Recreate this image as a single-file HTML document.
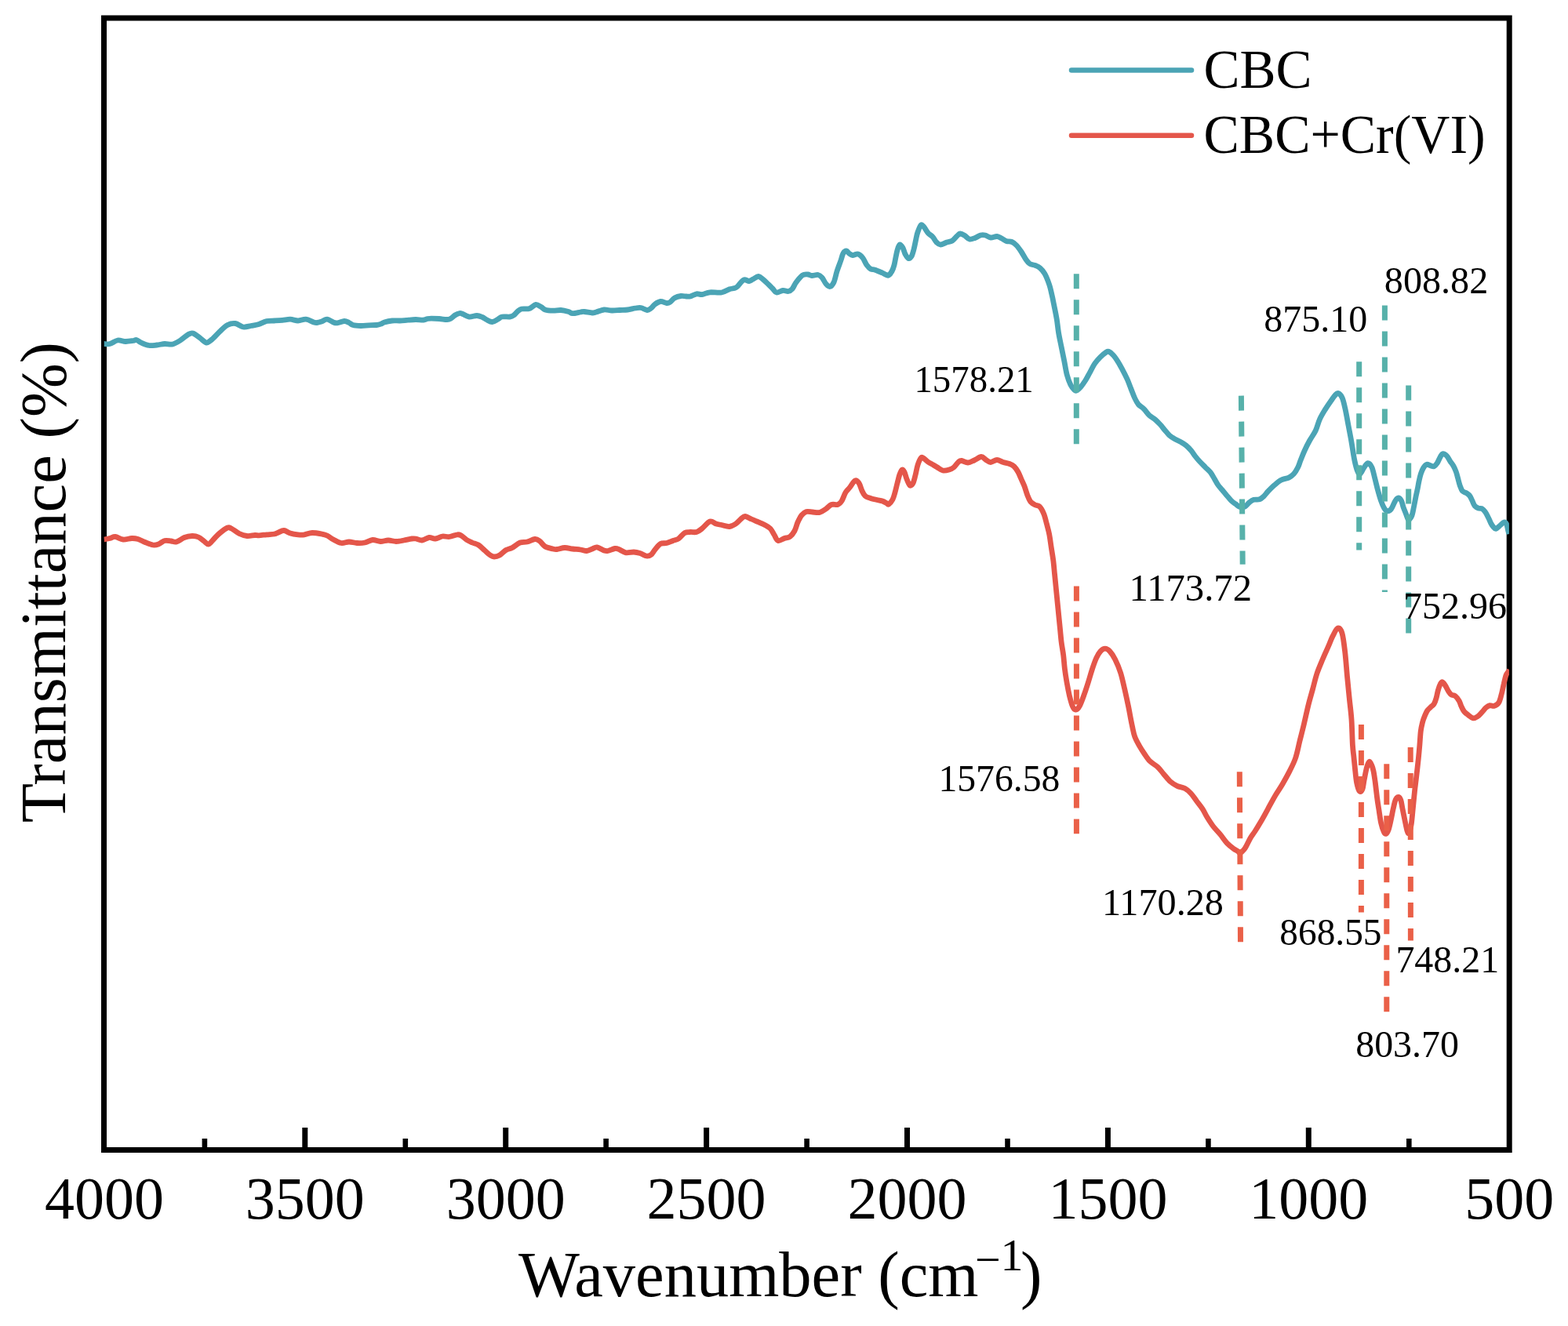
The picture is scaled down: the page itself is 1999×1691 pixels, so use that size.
<!DOCTYPE html>
<html><head><meta charset="utf-8"><title>FTIR</title>
<style>
html,body{margin:0;padding:0;background:#fff;}
body{width:1999px;height:1691px;overflow:hidden;}
svg{display:block;}
text{font-family:"Liberation Serif","Times New Roman",serif;fill:#000;}
.lab{font-size:48px;}
.tick{font-size:76px;}
.title{font-size:82.5px;}
.sup{font-size:58px;}
.leg{font-size:69px;}
</style></head><body>
<svg width="1999" height="1691" viewBox="0 0 1999 1691">
<rect width="1999" height="1691" fill="#fff"/>
<line x1="388.8" y1="1463" x2="388.8" y2="1438" stroke="#000" stroke-width="7"/>
<line x1="644.7" y1="1463" x2="644.7" y2="1438" stroke="#000" stroke-width="7"/>
<line x1="900.6" y1="1463" x2="900.6" y2="1438" stroke="#000" stroke-width="7"/>
<line x1="1156.5" y1="1463" x2="1156.5" y2="1438" stroke="#000" stroke-width="7"/>
<line x1="1412.4" y1="1463" x2="1412.4" y2="1438" stroke="#000" stroke-width="7"/>
<line x1="1668.3" y1="1463" x2="1668.3" y2="1438" stroke="#000" stroke-width="7"/>
<line x1="260.9" y1="1463" x2="260.9" y2="1452" stroke="#000" stroke-width="6.6"/>
<line x1="516.8" y1="1463" x2="516.8" y2="1452" stroke="#000" stroke-width="6.6"/>
<line x1="772.6" y1="1463" x2="772.6" y2="1452" stroke="#000" stroke-width="6.6"/>
<line x1="1028.6" y1="1463" x2="1028.6" y2="1452" stroke="#000" stroke-width="6.6"/>
<line x1="1284.5" y1="1463" x2="1284.5" y2="1452" stroke="#000" stroke-width="6.6"/>
<line x1="1540.4" y1="1463" x2="1540.4" y2="1452" stroke="#000" stroke-width="6.6"/>
<line x1="1796.3" y1="1463" x2="1796.3" y2="1452" stroke="#000" stroke-width="6.6"/>
<rect x="132.5" y="23" width="1791.7" height="1443.5" fill="none" stroke="#000" stroke-width="7"/>
<defs><clipPath id="pc"><rect x="132.5" y="0" width="1791.4" height="1691"/></clipPath></defs>
<g clip-path="url(#pc)">
<path d="M132.5 438.5C133.8 438.5 137.1 439.2 140.0 438.5C142.9 437.8 146.7 434.5 150.0 434.0C153.3 433.5 156.7 435.4 160.0 435.5C163.3 435.6 167.7 434.8 170.0 434.5C172.3 434.2 172.3 433.1 174.0 433.5C175.7 433.9 177.3 435.8 180.0 437.0C182.7 438.2 186.7 440.0 190.0 440.5C193.3 441.0 196.7 440.3 200.0 440.0C203.3 439.7 206.7 438.7 210.0 438.5C213.3 438.3 216.7 439.8 220.0 439.0C223.3 438.2 226.7 436.1 230.0 434.0C233.3 431.9 237.3 428.0 240.0 426.5C242.7 425.0 243.5 424.2 246.0 425.0C248.5 425.8 252.2 429.0 255.0 431.0C257.8 433.0 260.5 436.7 263.0 437.0C265.5 437.3 267.2 435.3 270.0 433.0C272.8 430.7 276.7 426.1 280.0 423.0C283.3 419.9 286.7 416.2 290.0 414.5C293.3 412.8 296.7 412.1 300.0 412.5C303.3 412.9 306.7 416.5 310.0 417.0C313.3 417.5 316.7 416.1 320.0 415.5C323.3 414.9 326.7 414.5 330.0 413.5C333.3 412.5 336.7 410.2 340.0 409.5C343.3 408.8 346.7 409.2 350.0 409.0C353.3 408.8 356.7 408.6 360.0 408.3C363.3 408.0 366.7 407.1 370.0 407.2C373.3 407.3 376.7 409.0 380.0 409.0C383.3 409.0 386.7 406.9 390.0 407.2C393.3 407.5 397.7 410.3 400.0 411.0C402.3 411.7 402.3 411.7 404.0 411.5C405.7 411.3 407.8 410.7 410.0 410.0C412.2 409.3 414.5 407.0 417.0 407.2C419.5 407.4 422.8 410.2 425.0 411.0C427.2 411.8 427.7 412.1 430.0 411.8C432.3 411.6 436.5 409.6 439.0 409.5C441.5 409.4 443.2 410.7 445.0 411.5C446.8 412.3 447.5 413.8 450.0 414.5C452.5 415.2 456.7 415.4 460.0 415.5C463.3 415.6 466.7 415.0 470.0 414.8C473.3 414.6 477.3 414.8 480.0 414.5C482.7 414.2 484.3 413.6 486.0 413.0C487.7 412.4 487.7 411.7 490.0 411.0C492.3 410.3 496.7 409.3 500.0 409.0C503.3 408.7 506.7 409.1 510.0 409.0C513.3 408.9 516.7 408.4 520.0 408.2C523.3 407.9 526.7 407.5 530.0 407.5C533.3 407.5 537.5 408.2 540.0 408.0C542.5 407.8 543.3 406.8 545.0 406.5C546.7 406.2 547.5 406.2 550.0 406.2C552.5 406.2 556.7 406.3 560.0 406.5C563.3 406.7 567.5 407.6 570.0 407.5C572.5 407.4 573.3 406.9 575.0 406.0C576.7 405.1 578.2 403.1 580.0 402.0C581.8 400.9 584.3 399.8 586.0 399.5C587.7 399.2 588.0 399.8 590.0 400.5C592.0 401.2 595.0 403.7 598.0 404.0C601.0 404.3 605.2 402.4 608.0 402.5C610.8 402.6 613.0 403.7 615.0 404.5C617.0 405.3 617.9 406.5 620.0 407.5C622.1 408.5 625.0 410.6 627.5 410.5C630.0 410.4 632.9 408.1 635.0 407.0C637.1 405.9 637.5 404.5 640.0 404.0C642.5 403.5 647.5 404.3 650.0 404.0C652.5 403.7 653.3 403.2 655.0 402.0C656.7 400.8 658.3 398.3 660.0 397.0C661.7 395.7 662.5 394.6 665.0 394.0C667.5 393.4 672.0 394.4 675.0 393.5C678.0 392.6 680.5 388.8 683.0 388.5C685.5 388.2 688.0 390.4 690.0 391.5C692.0 392.6 692.5 394.2 695.0 395.0C697.5 395.8 701.7 396.1 705.0 396.2C708.3 396.3 711.7 395.3 715.0 395.5C718.3 395.7 722.5 396.8 725.0 397.5C727.5 398.2 727.5 399.6 730.0 399.7C732.5 399.8 737.5 398.4 740.0 398.0C742.5 397.6 742.5 397.3 745.0 397.5C747.5 397.7 752.5 398.9 755.0 399.0C757.5 399.1 757.5 398.7 760.0 398.0C762.5 397.3 766.7 395.3 770.0 395.0C773.3 394.7 776.7 395.9 780.0 396.0C783.3 396.1 786.7 395.7 790.0 395.5C793.3 395.3 796.7 395.4 800.0 395.0C803.3 394.6 807.2 393.4 810.0 393.0C812.8 392.6 814.5 392.1 817.0 392.5C819.5 392.9 822.8 395.4 825.0 395.5C827.2 395.6 828.3 394.2 830.0 393.0C831.7 391.8 833.0 389.4 835.0 388.0C837.0 386.6 839.5 384.8 842.0 384.5C844.5 384.2 848.0 386.3 850.0 386.5C852.0 386.7 852.3 386.6 854.0 385.5C855.7 384.4 857.7 381.3 860.0 380.0C862.3 378.7 865.5 377.8 868.0 377.5C870.5 377.2 873.0 377.9 875.0 378.0C877.0 378.1 877.8 378.5 880.0 378.0C882.2 377.5 885.5 375.2 888.0 374.8C890.5 374.4 892.2 375.8 895.0 375.5C897.8 375.2 900.8 373.2 905.0 372.8C909.2 372.4 915.8 373.7 920.0 373.0C924.2 372.3 927.3 369.7 930.0 368.8C932.7 367.9 934.3 368.1 936.0 367.5C937.7 366.9 938.0 367.2 940.0 365.5C942.0 363.8 945.5 358.2 948.0 357.0C950.5 355.8 953.0 358.7 955.0 358.5C957.0 358.3 958.0 357.0 960.0 356.0C962.0 355.0 964.8 352.4 967.0 352.5C969.2 352.6 970.8 354.8 973.0 356.5C975.2 358.2 978.0 361.1 980.0 363.0C982.0 364.9 983.3 366.3 985.0 368.0C986.7 369.7 987.8 372.6 990.0 373.0C992.2 373.4 995.5 370.8 998.0 370.5C1000.5 370.2 1003.0 371.8 1005.0 371.5C1007.0 371.2 1008.3 370.4 1010.0 368.5C1011.7 366.6 1012.8 362.9 1015.0 360.0C1017.2 357.1 1020.5 352.7 1023.0 351.0C1025.5 349.3 1028.0 349.9 1030.0 350.0C1032.0 350.1 1032.8 351.4 1035.0 351.5C1037.2 351.6 1040.8 350.1 1043.0 350.5C1045.2 350.9 1046.3 352.1 1048.0 354.0C1049.7 355.9 1051.3 360.1 1053.0 362.0C1054.7 363.9 1056.3 365.8 1058.0 365.5C1059.7 365.2 1061.5 363.2 1063.0 360.0C1064.5 356.8 1065.5 350.7 1067.0 346.0C1068.5 341.3 1070.7 335.8 1072.0 332.0C1073.3 328.2 1073.8 325.0 1075.0 323.0C1076.2 321.0 1077.7 319.9 1079.0 320.0C1080.3 320.1 1081.7 322.6 1083.0 323.5C1084.3 324.4 1085.2 325.4 1087.0 325.5C1088.8 325.6 1091.8 323.4 1094.0 324.0C1096.2 324.6 1098.2 326.7 1100.0 329.0C1101.8 331.3 1103.3 335.7 1105.0 338.0C1106.7 340.3 1108.3 342.0 1110.0 343.0C1111.7 344.0 1113.3 343.5 1115.0 344.0C1116.7 344.5 1118.3 345.3 1120.0 346.0C1121.7 346.7 1123.3 347.2 1125.0 348.0C1126.7 348.8 1128.7 350.0 1130.0 350.5C1131.3 351.0 1131.8 351.8 1133.0 351.0C1134.2 350.2 1135.8 348.2 1137.0 346.0C1138.2 343.8 1139.2 341.0 1140.0 338.0C1140.8 335.0 1141.3 331.2 1142.0 328.0C1142.7 324.8 1143.2 321.7 1144.0 319.0C1144.8 316.3 1145.8 312.5 1147.0 312.0C1148.2 311.5 1149.8 314.0 1151.0 316.0C1152.2 318.0 1152.8 321.8 1154.0 324.0C1155.2 326.2 1156.7 329.0 1158.0 329.5C1159.3 330.0 1160.8 328.9 1162.0 327.0C1163.2 325.1 1164.0 321.8 1165.0 318.0C1166.0 314.2 1167.2 307.7 1168.0 304.0C1168.8 300.3 1169.0 298.8 1170.0 296.0C1171.0 293.2 1172.7 288.1 1174.0 287.0C1175.3 285.9 1176.5 287.8 1178.0 289.5C1179.5 291.2 1181.2 294.9 1183.0 297.0C1184.8 299.1 1187.2 300.0 1189.0 302.0C1190.8 304.0 1192.3 307.3 1194.0 309.0C1195.7 310.7 1196.8 312.0 1199.0 312.0C1201.2 312.0 1204.5 309.8 1207.0 309.0C1209.5 308.2 1211.8 308.3 1214.0 307.0C1216.2 305.7 1218.3 302.5 1220.0 301.0C1221.7 299.5 1222.3 298.1 1224.0 298.0C1225.7 297.9 1228.0 299.3 1230.0 300.5C1232.0 301.7 1233.8 304.5 1236.0 305.0C1238.2 305.5 1240.7 304.3 1243.0 303.5C1245.3 302.7 1247.8 300.6 1250.0 300.0C1252.2 299.4 1253.8 299.5 1256.0 300.0C1258.2 300.5 1260.5 302.8 1263.0 303.0C1265.5 303.2 1268.7 301.3 1271.0 301.5C1273.3 301.7 1275.0 303.0 1277.0 304.0C1279.0 305.0 1280.8 306.8 1283.0 307.5C1285.2 308.2 1287.8 307.6 1290.0 308.5C1292.2 309.4 1294.0 310.9 1296.0 313.0C1298.0 315.1 1300.0 318.0 1302.0 321.0C1304.0 324.0 1306.2 328.4 1308.0 331.0C1309.8 333.6 1311.0 335.2 1313.0 336.5C1315.0 337.8 1317.8 337.6 1320.0 338.5C1322.2 339.4 1324.0 340.1 1326.0 341.8C1328.0 343.5 1329.8 345.4 1331.8 348.9C1333.8 352.4 1336.1 358.3 1337.7 363.0C1339.3 367.7 1340.3 373.0 1341.3 377.3C1342.3 381.6 1342.7 384.1 1343.7 389.0C1344.7 393.9 1346.2 401.0 1347.2 406.9C1348.2 412.8 1348.6 418.7 1349.6 424.6C1350.6 430.5 1351.9 436.4 1353.1 442.3C1354.3 448.2 1355.5 454.1 1356.7 460.0C1357.9 465.9 1358.8 472.7 1360.2 477.8C1361.6 482.9 1363.3 487.6 1364.9 490.8C1366.5 494.1 1368.4 496.1 1369.7 497.3C1371.0 498.5 1371.2 498.7 1372.6 498.0C1374.0 497.3 1376.1 495.4 1378.0 493.2C1379.9 491.0 1381.9 488.1 1383.9 485.0C1385.9 481.9 1387.8 477.9 1389.8 474.3C1391.8 470.7 1393.5 466.8 1395.7 463.6C1397.9 460.5 1400.4 457.8 1402.8 455.4C1405.2 453.0 1408.1 450.6 1409.9 449.4C1411.7 448.2 1411.8 447.7 1413.4 448.3C1415.0 448.9 1417.3 450.8 1419.3 453.0C1421.3 455.2 1423.3 458.2 1425.3 461.3C1427.3 464.4 1429.2 468.2 1431.2 471.9C1433.2 475.6 1435.3 479.8 1437.1 483.7C1438.9 487.6 1440.2 491.7 1441.8 495.6C1443.4 499.6 1444.9 504.0 1446.5 507.4C1448.1 510.8 1449.3 513.3 1451.3 515.7C1453.3 518.1 1456.1 519.2 1458.4 521.6C1460.7 524.0 1462.9 527.5 1465.3 529.8C1467.7 532.0 1470.5 533.1 1472.8 535.1C1475.1 537.1 1477.2 539.4 1479.2 541.5C1481.2 543.6 1482.5 545.6 1484.5 547.9C1486.5 550.2 1488.8 553.3 1490.9 555.3C1493.0 557.2 1494.8 558.2 1497.3 559.6C1499.8 561.0 1503.3 562.5 1505.8 563.9C1508.3 565.3 1510.1 566.3 1512.2 568.1C1514.3 569.9 1516.5 572.2 1518.5 574.5C1520.5 576.8 1522.1 579.7 1523.9 582.0C1525.7 584.3 1527.1 586.0 1529.2 588.3C1531.3 590.6 1534.3 593.5 1536.6 595.8C1538.9 598.1 1541.0 599.7 1543.0 602.2C1545.0 604.7 1546.7 608.1 1548.3 610.7C1549.9 613.4 1551.0 615.8 1552.6 618.1C1554.2 620.4 1556.1 622.4 1557.9 624.5C1559.7 626.6 1561.2 628.6 1563.2 630.9C1565.2 633.2 1567.6 636.4 1569.6 638.4C1571.6 640.4 1573.2 641.3 1575.0 642.6C1576.8 643.9 1578.9 645.6 1580.3 646.4C1581.7 647.2 1582.3 647.5 1583.5 647.4C1584.7 647.3 1586.1 646.9 1587.7 645.8C1589.3 644.6 1591.2 641.9 1593.0 640.5C1594.8 639.1 1596.3 637.9 1598.4 637.3C1600.5 636.7 1603.7 637.5 1605.8 636.8C1607.9 636.1 1609.3 634.7 1611.1 633.0C1612.9 631.3 1614.5 628.8 1616.5 626.7C1618.5 624.6 1620.6 622.4 1622.9 620.3C1625.2 618.2 1628.2 615.4 1630.3 613.9C1632.4 612.4 1633.5 612.0 1635.6 611.2C1637.7 610.4 1640.8 610.2 1643.1 609.1C1645.4 608.0 1647.5 606.5 1649.5 604.3C1651.5 602.1 1653.4 598.6 1654.8 595.8C1656.2 593.0 1656.6 590.8 1658.0 587.3C1659.4 583.8 1661.1 579.2 1663.0 575.0C1664.9 570.8 1667.1 566.3 1669.5 562.0C1671.9 557.7 1675.1 553.6 1677.3 549.0C1679.5 544.4 1680.5 539.0 1682.5 534.6C1684.5 530.2 1686.6 526.8 1689.0 522.9C1691.4 519.0 1694.6 514.3 1696.8 511.2C1699.0 508.1 1700.5 505.7 1702.0 504.1C1703.5 502.5 1704.5 501.0 1706.0 501.5C1707.5 502.0 1709.7 503.9 1711.2 507.3C1712.7 510.7 1713.7 515.7 1715.0 521.6C1716.3 527.5 1717.7 535.5 1719.0 542.5C1720.3 549.5 1721.6 555.9 1722.9 563.3C1724.2 570.7 1725.5 580.4 1726.8 586.7C1728.1 593.0 1729.5 598.1 1730.7 601.0C1731.9 603.9 1732.6 604.9 1733.9 604.3C1735.2 603.6 1736.9 599.4 1738.5 597.1C1740.1 594.8 1742.0 590.8 1743.7 590.6C1745.4 590.4 1747.4 592.5 1748.9 595.8C1750.4 599.0 1751.5 605.1 1752.8 610.1C1754.1 615.1 1755.4 620.9 1756.7 625.7C1758.0 630.5 1759.3 635.0 1760.6 638.7C1761.9 642.4 1763.2 645.6 1764.5 647.8C1765.8 650.0 1766.9 651.5 1768.4 651.7C1769.9 651.9 1771.9 651.3 1773.6 649.1C1775.3 646.9 1777.3 641.1 1778.8 638.7C1780.3 636.3 1781.3 634.9 1782.6 634.9C1783.9 634.9 1785.5 636.6 1786.6 638.6C1787.7 640.6 1788.1 644.1 1789.1 646.9C1790.1 649.7 1791.4 652.7 1792.4 655.2C1793.4 657.7 1794.2 660.6 1794.9 661.8C1795.6 663.0 1795.8 663.3 1796.6 662.6C1797.4 661.9 1798.9 660.3 1799.9 657.7C1800.9 655.1 1801.6 650.8 1802.4 646.9C1803.2 643.0 1804.0 638.5 1804.8 634.5C1805.6 630.5 1806.6 626.4 1807.3 622.9C1808.0 619.4 1808.3 617.0 1809.0 613.8C1809.7 610.6 1810.5 606.8 1811.5 603.9C1812.5 601.0 1813.6 598.3 1814.8 596.4C1816.0 594.5 1817.4 592.7 1818.9 592.3C1820.4 591.9 1822.4 593.5 1823.9 593.9C1825.4 594.3 1826.6 595.3 1828.0 594.8C1829.4 594.2 1830.8 592.7 1832.2 590.6C1833.6 588.5 1835.1 584.4 1836.3 582.4C1837.5 580.4 1838.2 578.8 1839.6 578.6C1841.0 578.5 1843.1 579.9 1844.6 581.5C1846.1 583.1 1847.3 586.0 1848.7 588.1C1850.1 590.2 1851.5 591.7 1852.8 593.9C1854.0 596.1 1855.2 598.8 1856.2 601.4C1857.2 604.0 1857.8 606.8 1858.6 609.7C1859.4 612.6 1860.1 616.0 1861.1 618.8C1862.1 621.5 1863.0 624.6 1864.4 626.2C1865.8 627.9 1867.9 627.7 1869.4 628.7C1870.9 629.7 1872.2 630.4 1873.5 632.0C1874.8 633.6 1875.8 636.4 1876.9 638.6C1878.0 640.8 1878.8 643.7 1880.2 645.3C1881.6 646.9 1883.6 647.7 1885.1 648.2C1886.6 648.8 1887.9 647.9 1889.3 648.6C1890.7 649.4 1892.0 650.8 1893.4 652.7C1894.8 654.6 1896.2 657.7 1897.5 660.2C1898.8 662.7 1899.9 665.7 1900.9 667.6C1901.9 669.5 1902.5 670.4 1903.5 671.5C1904.5 672.6 1905.5 674.5 1907.0 674.3C1908.5 674.0 1910.8 671.4 1912.5 670.0C1914.2 668.6 1916.0 666.3 1917.3 666.0C1918.6 665.7 1919.6 666.3 1920.5 668.0C1921.4 669.7 1922.0 673.8 1922.5 676.0C1923.0 678.2 1923.6 680.2 1923.8 681.0" fill="none" stroke="#4BA4B5" stroke-width="6.8" stroke-linejoin="round" stroke-linecap="butt"/>
<path d="M132.5 688.0C133.8 687.8 137.6 687.1 140.0 686.5C142.4 685.9 144.2 684.2 147.0 684.5C149.8 684.8 153.5 687.7 157.0 688.0C160.5 688.3 164.8 686.6 168.0 686.5C171.2 686.4 173.2 686.7 176.0 687.5C178.8 688.3 181.8 690.2 185.0 691.5C188.2 692.8 192.2 694.6 195.0 695.0C197.8 695.4 199.5 694.9 202.0 694.0C204.5 693.1 207.3 690.2 210.0 689.5C212.7 688.8 215.5 689.8 218.0 690.0C220.5 690.2 222.2 691.8 225.0 691.0C227.8 690.2 231.7 686.8 235.0 685.5C238.3 684.2 242.0 683.6 245.0 683.5C248.0 683.4 250.5 683.9 253.0 685.0C255.5 686.1 257.8 688.5 260.0 690.0C262.2 691.5 263.8 694.5 266.0 694.0C268.2 693.5 270.7 689.3 273.0 687.0C275.3 684.7 277.2 682.3 280.0 680.0C282.8 677.7 287.5 674.0 290.0 673.0C292.5 672.0 292.5 672.8 295.0 674.0C297.5 675.2 301.7 678.9 305.0 680.5C308.3 682.1 311.7 683.2 315.0 683.5C318.3 683.8 322.5 682.6 325.0 682.5C327.5 682.4 327.5 682.9 330.0 682.8C332.5 682.7 336.7 682.1 340.0 681.8C343.3 681.5 347.5 681.5 350.0 681.0C352.5 680.5 353.0 679.8 355.0 679.0C357.0 678.2 359.5 676.3 362.0 676.5C364.5 676.7 367.0 679.1 370.0 680.0C373.0 680.9 377.0 681.5 380.0 681.8C383.0 682.1 385.0 682.2 388.0 681.8C391.0 681.4 394.3 679.6 398.0 679.5C401.7 679.4 406.8 680.4 410.0 681.0C413.2 681.6 414.5 681.8 417.0 683.0C419.5 684.2 422.0 686.4 425.0 688.0C428.0 689.6 431.7 692.0 435.0 692.5C438.3 693.0 441.7 691.0 445.0 691.0C448.3 691.0 451.7 692.3 455.0 692.5C458.3 692.7 461.7 692.7 465.0 692.0C468.3 691.3 471.7 688.8 475.0 688.5C478.3 688.2 481.7 690.4 485.0 690.5C488.3 690.6 491.7 689.0 495.0 689.0C498.3 689.0 501.7 690.5 505.0 690.5C508.3 690.5 511.7 689.6 515.0 689.0C518.3 688.4 522.5 687.3 525.0 687.0C527.5 686.7 527.8 686.7 530.0 687.0C532.2 687.3 535.2 689.2 538.0 689.0C540.8 688.8 544.2 685.8 547.0 685.5C549.8 685.2 552.2 687.2 555.0 687.0C557.8 686.8 561.0 684.4 564.0 684.0C567.0 683.6 569.8 684.9 573.0 684.5C576.2 684.1 580.5 682.0 583.0 681.8C585.5 681.5 586.0 681.9 588.0 683.0C590.0 684.1 592.7 687.0 595.0 688.5C597.3 690.0 599.5 690.9 602.0 692.0C604.5 693.1 607.3 693.3 610.0 695.0C612.7 696.7 615.5 699.8 618.0 702.0C620.5 704.2 623.0 706.7 625.0 708.0C627.0 709.3 628.0 710.0 630.0 710.0C632.0 710.0 634.5 709.4 637.0 708.0C639.5 706.6 642.3 703.1 645.0 701.5C647.7 699.9 650.0 700.1 653.0 698.5C656.0 696.9 659.8 693.2 663.0 692.0C666.2 690.8 668.8 691.8 672.0 691.0C675.2 690.2 679.3 687.7 682.0 687.5C684.7 687.3 685.8 688.4 688.0 690.0C690.2 691.6 692.2 695.3 695.0 697.0C697.8 698.7 702.5 699.4 705.0 700.0C707.5 700.6 707.5 700.8 710.0 700.5C712.5 700.2 716.7 698.6 720.0 698.5C723.3 698.4 726.7 699.6 730.0 700.0C733.3 700.4 737.0 700.6 740.0 701.0C743.0 701.4 745.5 702.7 748.0 702.5C750.5 702.3 752.8 700.8 755.0 700.0C757.2 699.2 758.5 697.5 761.0 697.8C763.5 698.1 767.7 701.2 770.0 702.0C772.3 702.8 772.7 702.9 775.0 702.5C777.3 702.1 781.5 699.8 784.0 699.5C786.5 699.2 787.7 700.1 790.0 701.0C792.3 701.9 795.0 704.3 798.0 704.8C801.0 705.3 805.0 703.9 808.0 704.0C811.0 704.1 813.3 704.7 816.0 705.5C818.7 706.3 821.7 708.7 824.0 709.0C826.3 709.3 828.2 708.8 830.0 707.5C831.8 706.2 833.0 703.3 835.0 701.0C837.0 698.7 839.5 694.9 842.0 693.5C844.5 692.1 847.3 693.2 850.0 692.5C852.7 691.8 855.5 690.4 858.0 689.5C860.5 688.6 862.5 688.7 865.0 687.0C867.5 685.3 870.5 680.9 873.0 679.5C875.5 678.1 877.5 678.7 880.0 678.5C882.5 678.3 885.5 679.2 888.0 678.5C890.5 677.8 892.2 676.2 895.0 674.0C897.8 671.8 902.0 666.0 905.0 665.0C908.0 664.0 910.5 667.2 913.0 668.0C915.5 668.8 917.2 668.9 920.0 669.5C922.8 670.1 927.0 671.8 930.0 671.5C933.0 671.2 935.5 669.7 938.0 668.0C940.5 666.3 943.0 663.1 945.0 661.5C947.0 659.9 947.8 658.4 950.0 658.5C952.2 658.6 955.5 660.9 958.0 662.0C960.5 663.1 962.2 663.8 965.0 665.0C967.8 666.2 972.2 668.0 975.0 669.5C977.8 671.0 980.0 671.9 982.0 674.0C984.0 676.1 985.3 679.4 987.0 682.0C988.7 684.6 989.8 688.8 992.0 689.5C994.2 690.2 997.5 687.3 1000.0 686.5C1002.5 685.7 1004.8 686.1 1007.0 684.5C1009.2 682.9 1011.3 680.1 1013.0 677.0C1014.7 673.9 1015.5 669.3 1017.0 666.0C1018.5 662.7 1020.2 659.2 1022.0 657.0C1023.8 654.8 1025.7 653.2 1028.0 652.5C1030.3 651.8 1033.2 652.8 1036.0 653.0C1038.8 653.2 1042.2 654.2 1045.0 653.5C1047.8 652.8 1050.5 650.7 1053.0 649.0C1055.5 647.3 1057.5 644.4 1060.0 643.5C1062.5 642.6 1065.8 644.2 1068.0 643.5C1070.2 642.8 1071.3 641.6 1073.0 639.0C1074.7 636.4 1076.3 630.8 1078.0 628.0C1079.7 625.2 1081.0 624.5 1083.0 622.0C1085.0 619.5 1088.0 614.0 1090.0 613.0C1092.0 612.0 1093.5 613.8 1095.0 616.0C1096.5 618.2 1097.7 623.2 1099.0 626.0C1100.3 628.8 1101.2 630.9 1103.0 632.5C1104.8 634.1 1107.5 634.7 1110.0 635.5C1112.5 636.3 1115.5 636.9 1118.0 637.5C1120.5 638.1 1123.0 638.3 1125.0 639.0C1127.0 639.7 1128.7 640.8 1130.0 641.5C1131.3 642.2 1131.7 643.8 1133.0 643.0C1134.3 642.2 1136.7 639.5 1138.0 637.0C1139.3 634.5 1140.0 631.5 1141.0 628.0C1142.0 624.5 1143.0 619.8 1144.0 616.0C1145.0 612.2 1146.0 607.8 1147.0 605.0C1148.0 602.2 1149.0 599.5 1150.0 599.0C1151.0 598.5 1152.0 600.0 1153.0 602.0C1154.0 604.0 1154.8 608.2 1156.0 611.0C1157.2 613.8 1158.7 618.2 1160.0 619.0C1161.3 619.8 1162.8 618.2 1164.0 616.0C1165.2 613.8 1166.0 609.8 1167.0 606.0C1168.0 602.2 1168.8 596.7 1170.0 593.0C1171.2 589.3 1172.8 585.5 1174.0 584.0C1175.2 582.5 1175.5 583.2 1177.0 584.0C1178.5 584.8 1180.8 587.5 1183.0 589.0C1185.2 590.5 1188.0 591.8 1190.0 593.0C1192.0 594.2 1193.0 594.8 1195.0 596.0C1197.0 597.2 1199.5 599.5 1202.0 600.0C1204.5 600.5 1207.7 599.7 1210.0 599.0C1212.3 598.3 1214.0 597.7 1216.0 596.0C1218.0 594.3 1220.3 590.4 1222.0 589.0C1223.7 587.6 1224.0 587.3 1226.0 587.5C1228.0 587.7 1231.3 590.1 1234.0 590.0C1236.7 589.9 1239.2 588.2 1242.0 587.0C1244.8 585.8 1248.5 582.6 1251.0 582.5C1253.5 582.4 1255.0 585.3 1257.0 586.5C1259.0 587.7 1260.7 589.5 1263.0 589.5C1265.3 589.5 1268.3 586.5 1271.0 586.5C1273.7 586.5 1276.3 588.7 1279.0 589.5C1281.7 590.3 1284.7 590.6 1287.0 591.5C1289.3 592.4 1291.2 593.2 1293.0 595.0C1294.8 596.8 1296.5 599.3 1298.0 602.0C1299.5 604.7 1300.7 608.0 1302.0 611.0C1303.3 614.0 1304.7 616.5 1306.0 620.0C1307.3 623.5 1308.7 628.7 1310.0 632.0C1311.3 635.3 1312.3 638.0 1314.0 640.0C1315.7 642.0 1318.0 643.0 1320.0 644.0C1322.0 645.0 1323.9 644.3 1325.7 646.3C1327.5 648.2 1329.5 652.1 1330.9 655.7C1332.3 659.3 1333.2 663.4 1334.3 667.7C1335.4 672.0 1336.7 676.2 1337.7 681.4C1338.7 686.5 1339.4 692.9 1340.3 698.6C1341.2 704.3 1342.2 710.0 1342.9 715.7C1343.6 721.4 1344.0 727.2 1344.6 732.9C1345.2 738.6 1345.7 744.3 1346.3 750.0C1346.9 755.7 1347.4 761.4 1348.0 767.1C1348.6 772.8 1349.1 778.6 1349.7 784.3C1350.3 790.0 1350.8 795.7 1351.4 801.4C1352.0 807.1 1352.4 812.9 1353.1 818.6C1353.8 824.3 1355.0 830.0 1355.7 835.7C1356.4 841.4 1356.7 847.2 1357.4 852.9C1358.1 858.6 1359.0 864.3 1360.0 870.0C1361.0 875.7 1362.2 882.0 1363.4 887.2C1364.7 892.4 1366.2 898.0 1367.5 901.0C1368.8 904.0 1369.8 905.4 1371.3 905.2C1372.8 905.0 1374.7 903.3 1376.5 900.0C1378.3 896.7 1380.5 890.4 1382.3 885.4C1384.1 880.4 1385.7 875.4 1387.4 870.0C1389.1 864.6 1390.9 858.0 1392.6 852.9C1394.3 847.8 1396.0 842.9 1397.7 839.2C1399.4 835.5 1401.0 832.6 1402.9 830.6C1404.8 828.6 1406.9 827.2 1408.9 827.2C1410.9 827.2 1412.8 828.3 1414.9 830.6C1417.0 832.9 1419.4 836.3 1421.7 840.9C1424.0 845.5 1426.6 851.7 1428.6 858.0C1430.6 864.3 1432.0 871.3 1433.7 878.6C1435.4 885.9 1437.5 896.0 1438.8 902.0C1440.0 908.0 1440.4 910.6 1441.2 914.8C1442.0 919.0 1442.8 923.1 1443.7 927.3C1444.6 931.4 1445.3 935.8 1446.8 939.7C1448.2 943.6 1450.4 947.4 1452.4 950.9C1454.4 954.4 1456.3 957.5 1458.6 960.8C1460.9 964.1 1463.1 967.8 1466.0 970.7C1468.9 973.6 1473.1 975.5 1476.0 978.2C1478.9 980.9 1480.7 983.8 1483.4 986.9C1486.1 990.0 1489.2 994.2 1492.1 996.8C1495.0 999.4 1497.7 1000.9 1500.8 1002.4C1503.9 1003.9 1507.8 1004.0 1510.7 1005.5C1513.6 1007.0 1515.7 1009.0 1518.2 1011.7C1520.7 1014.4 1523.2 1018.4 1525.7 1021.7C1528.2 1025.0 1530.8 1028.1 1533.1 1031.6C1535.4 1035.1 1537.0 1039.1 1539.3 1042.8C1541.6 1046.5 1544.1 1050.5 1546.8 1054.0C1549.5 1057.5 1552.6 1060.4 1555.5 1063.9C1558.4 1067.4 1561.3 1072.0 1564.2 1075.1C1567.1 1078.2 1570.6 1080.8 1572.9 1082.5C1575.2 1084.2 1576.7 1084.6 1578.0 1085.5C1579.3 1086.4 1579.8 1088.0 1580.8 1088.0C1581.8 1088.0 1582.8 1086.7 1584.0 1085.5C1585.2 1084.3 1586.1 1083.7 1587.7 1081.0C1589.3 1078.3 1591.8 1072.7 1593.8 1069.2C1595.8 1065.7 1597.7 1063.6 1600.0 1060.0C1602.3 1056.4 1604.8 1052.3 1607.6 1047.5C1610.4 1042.7 1613.7 1036.6 1616.7 1031.1C1619.7 1025.6 1622.8 1019.8 1625.8 1014.6C1628.8 1009.4 1632.0 1005.2 1635.0 1000.0C1638.0 994.8 1641.3 988.9 1644.1 983.4C1646.8 977.9 1649.3 973.4 1651.5 967.0C1653.7 960.6 1655.2 952.3 1657.0 945.0C1658.8 937.7 1660.7 930.6 1662.5 923.0C1664.3 915.4 1666.2 906.4 1668.0 899.1C1669.8 891.8 1671.7 885.7 1673.5 879.0C1675.3 872.3 1676.9 865.2 1679.0 858.8C1681.1 852.4 1683.9 846.3 1686.3 840.5C1688.7 834.7 1691.5 828.9 1693.6 824.0C1695.7 819.1 1697.1 815.0 1699.1 811.2C1701.1 807.4 1703.5 801.7 1705.5 801.1C1707.5 800.5 1709.5 802.5 1711.0 807.5C1712.5 812.5 1713.6 822.1 1714.7 831.3C1715.8 840.5 1716.6 852.7 1717.5 862.5C1718.4 872.3 1719.3 880.8 1720.2 890.0C1721.1 899.2 1722.3 907.5 1723.0 917.5C1723.7 927.5 1723.9 942.1 1724.4 950.0C1724.9 957.9 1725.4 959.9 1725.9 964.8C1726.4 969.7 1726.8 974.1 1727.4 979.6C1728.0 985.1 1728.6 993.1 1729.6 998.0C1730.6 1002.9 1732.1 1007.7 1733.3 1009.1C1734.5 1010.5 1736.0 1008.7 1737.0 1006.2C1738.0 1003.7 1738.3 998.7 1739.2 994.3C1740.1 989.9 1741.2 983.4 1742.2 979.6C1743.2 975.8 1744.4 972.0 1745.5 971.4C1746.6 970.8 1747.9 973.9 1748.8 975.9C1749.7 977.9 1750.2 979.6 1751.0 983.3C1751.8 987.0 1752.5 992.5 1753.3 998.0C1754.0 1003.5 1754.8 1011.0 1755.5 1016.5C1756.2 1022.0 1756.8 1025.8 1757.7 1031.3C1758.6 1036.8 1759.6 1044.9 1760.7 1049.8C1761.8 1054.7 1763.2 1058.7 1764.3 1060.9C1765.4 1063.1 1766.3 1063.6 1767.3 1063.1C1768.3 1062.6 1769.3 1060.7 1770.3 1057.9C1771.3 1055.1 1772.2 1050.5 1773.2 1046.1C1774.2 1041.7 1775.2 1035.6 1776.2 1031.3C1777.2 1027.0 1778.0 1022.7 1779.1 1020.2C1780.2 1017.7 1781.7 1016.5 1782.8 1016.5C1783.9 1016.5 1784.9 1017.7 1785.8 1020.2C1786.7 1022.7 1787.1 1027.0 1788.0 1031.3C1788.9 1035.6 1790.0 1041.4 1791.0 1046.1C1792.0 1050.8 1793.1 1056.7 1793.9 1059.4C1794.8 1062.1 1795.2 1063.5 1796.1 1062.3C1797.0 1061.1 1798.2 1057.2 1799.1 1052.0C1800.0 1046.8 1800.6 1038.5 1801.3 1031.3C1802.0 1024.1 1802.8 1015.9 1803.5 1009.1C1804.2 1002.3 1804.9 997.4 1805.7 990.6C1806.5 983.8 1807.5 975.3 1808.2 968.5C1808.9 961.7 1809.4 956.0 1809.9 950.0C1810.4 944.0 1810.7 937.0 1811.3 932.3C1811.9 927.6 1812.6 924.8 1813.4 921.6C1814.2 918.4 1815.2 915.7 1816.3 913.1C1817.4 910.5 1818.5 907.9 1819.8 906.0C1821.1 904.1 1822.7 903.1 1824.1 901.7C1825.5 900.3 1827.1 899.5 1828.3 897.5C1829.5 895.5 1830.4 892.5 1831.2 889.7C1832.0 886.9 1832.5 883.4 1833.3 880.5C1834.1 877.6 1835.1 874.4 1836.1 872.6C1837.0 870.8 1837.9 869.5 1839.0 869.8C1840.1 870.0 1841.2 872.1 1842.5 874.1C1843.8 876.1 1845.5 879.9 1846.8 881.9C1848.1 883.9 1848.9 885.1 1850.3 886.1C1851.7 887.1 1853.6 886.3 1855.3 887.6C1857.0 888.9 1859.0 891.7 1860.3 893.9C1861.6 896.1 1862.0 898.8 1863.1 901.0C1864.1 903.2 1865.2 905.6 1866.6 907.4C1868.0 909.2 1869.7 910.3 1871.6 911.7C1873.5 913.1 1876.0 915.5 1878.0 915.9C1880.0 916.2 1881.8 915.1 1883.7 913.8C1885.6 912.5 1887.6 910.0 1889.4 908.1C1891.2 906.2 1892.7 903.9 1894.3 902.5C1895.9 901.1 1897.5 900.0 1899.3 899.6C1901.1 899.2 1903.1 900.9 1905.0 900.3C1906.9 899.7 1909.2 898.6 1910.7 896.1C1912.2 893.6 1913.1 889.3 1914.2 885.4C1915.3 881.5 1916.1 876.6 1917.1 872.6C1918.0 868.6 1919.0 863.9 1919.9 861.3C1920.8 858.7 1921.9 857.9 1922.7 856.8C1923.5 855.7 1924.2 854.9 1924.5 854.5" fill="none" stroke="#E4564A" stroke-width="6.8" stroke-linejoin="round" stroke-linecap="butt"/>
<line x1="1372.3" y1="349.2" x2="1372.3" y2="566.6" stroke="#57B1AA" stroke-width="7" stroke-dasharray="19 14"/>
<line x1="1582.4" y1="504.6" x2="1584.2" y2="719.7" stroke="#57B1AA" stroke-width="7" stroke-dasharray="19 14"/>
<line x1="1732.7" y1="461.2" x2="1732.7" y2="701.4" stroke="#57B1AA" stroke-width="7" stroke-dasharray="19 14"/>
<line x1="1765.4" y1="389.6" x2="1765.4" y2="755.0" stroke="#57B1AA" stroke-width="7" stroke-dasharray="19 14"/>
<line x1="1795.7" y1="491.5" x2="1795.7" y2="808.6" stroke="#57B1AA" stroke-width="7" stroke-dasharray="19 14"/>
<line x1="1372.4" y1="747.6" x2="1372.4" y2="1063.2" stroke="#EA6048" stroke-width="7" stroke-dasharray="19 14"/>
<line x1="1580.3" y1="984.3" x2="1581.5" y2="1201.8" stroke="#EA6048" stroke-width="7" stroke-dasharray="19 14"/>
<line x1="1735.4" y1="924.0" x2="1735.4" y2="1163.4" stroke="#EA6048" stroke-width="7" stroke-dasharray="19 14"/>
<line x1="1767.8" y1="974.3" x2="1767.8" y2="1290.5" stroke="#EA6048" stroke-width="7" stroke-dasharray="19 14"/>
<line x1="1798.2" y1="953.0" x2="1798.4" y2="1199.4" stroke="#EA6048" stroke-width="7" stroke-dasharray="19 14"/>
</g>
<text x="1165.4" y="499.9" class="lab" textLength="152.4" lengthAdjust="spacingAndGlyphs">1578.21</text>
<text x="1439.6" y="766.0" class="lab" textLength="156.4" lengthAdjust="spacingAndGlyphs">1173.72</text>
<text x="1611.3" y="422.8" class="lab" textLength="132.0" lengthAdjust="spacingAndGlyphs">875.10</text>
<text x="1764.8" y="374.0" class="lab" textLength="132.5" lengthAdjust="spacingAndGlyphs">808.82</text>
<text x="1789.0" y="788.5" class="lab">752.96</text>
<text x="1196.4" y="1009.0" class="lab" textLength="155.0" lengthAdjust="spacingAndGlyphs">1576.58</text>
<text x="1405.0" y="1166.5" class="lab" textLength="154.9" lengthAdjust="spacingAndGlyphs">1170.28</text>
<text x="1631.3" y="1204.8" class="lab" textLength="130.2" lengthAdjust="spacingAndGlyphs">868.55</text>
<text x="1779.4" y="1240.4" class="lab" textLength="131.9" lengthAdjust="spacingAndGlyphs">748.21</text>
<text x="1728.2" y="1347.9" class="lab" textLength="131.7" lengthAdjust="spacingAndGlyphs">803.70</text>
<text x="132.9" y="1554" class="tick" text-anchor="middle">4000</text>
<text x="388.8" y="1554" class="tick" text-anchor="middle">3500</text>
<text x="644.7" y="1554" class="tick" text-anchor="middle">3000</text>
<text x="900.6" y="1554" class="tick" text-anchor="middle">2500</text>
<text x="1156.5" y="1554" class="tick" text-anchor="middle">2000</text>
<text x="1412.4" y="1554" class="tick" text-anchor="middle">1500</text>
<text x="1668.3" y="1554" class="tick" text-anchor="middle">1000</text>
<text x="1924.2" y="1554" class="tick" text-anchor="middle">500</text>
<text x="660.9" y="1653" class="title">Wavenumber (cm</text>
<text x="1242.9" y="1625.5" class="sup">−</text>
<text x="1275.5" y="1620.1" class="sup">1</text>
<text x="1301.1" y="1653.2" class="title">)</text>
<text transform="translate(83,1049.2) rotate(-90)" class="title">Transmittance (%)</text>
<line x1="1366" y1="89.5" x2="1519" y2="89.5" stroke="#4BA4B5" stroke-width="6.5" stroke-linecap="round"/>
<line x1="1366" y1="172.8" x2="1519" y2="172.8" stroke="#E4564A" stroke-width="6.5" stroke-linecap="round"/>
<text x="1534.5" y="111.7" class="leg">CBC</text>
<text x="1534.5" y="194.6" class="leg" textLength="359.2" lengthAdjust="spacingAndGlyphs">CBC+Cr(VI)</text>
</svg>
</body></html>
